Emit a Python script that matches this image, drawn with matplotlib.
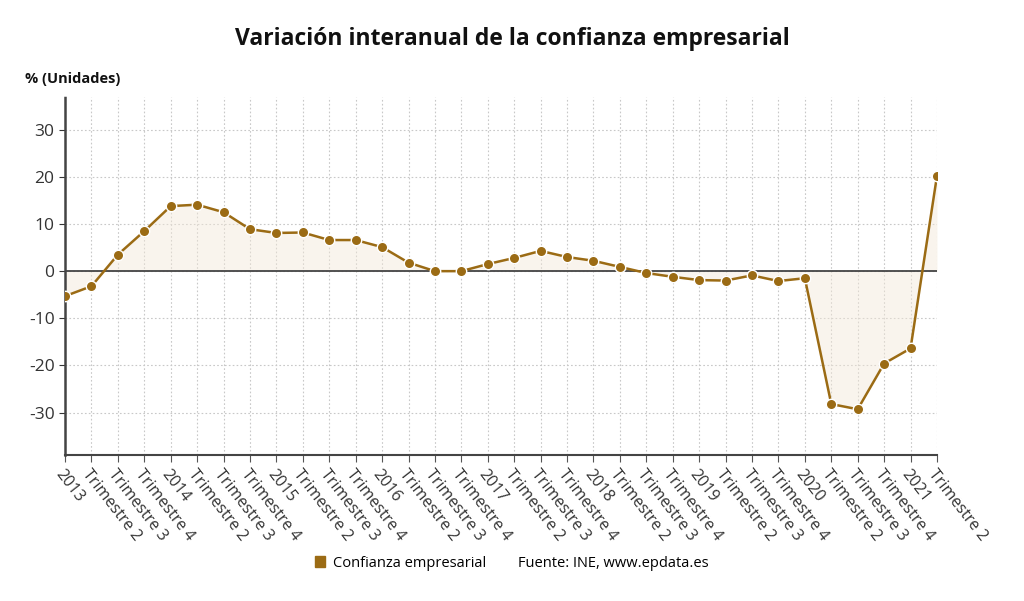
import matplotlib.pyplot as plt
from matplotlib.lines import Line2D
from matplotlib.patches import Patch

plt.rcParams['font.family'] = ['Open Sans', 'DejaVu Sans']

etiquetas = []
for anio in range(2013, 2022):
    etiquetas += [str(anio), 'Trimestre 2', 'Trimestre 3', 'Trimestre 4']
etiquetas = etiquetas[:34]

confianza = [-5.3, -3.2, 3.5, 8.5, 13.8, 14.1, 12.5, 8.9, 8.1, 8.2, 6.6, 6.6,
             5.1, 1.8, 0.0, 0.0, 1.5, 2.8, 4.3, 3.0, 2.2, 0.9, -0.4, -1.2,
             -1.9, -2.0, -0.9, -2.1, -1.5, -28.2, -29.3, -19.6, -16.4, 20.2]

color = '#9b6b14'
x = list(range(len(confianza)))

fig = plt.figure(figsize=(10.24, 6.01), dpi=100)
ax = fig.add_axes([0.0635, 0.243, 0.8515, 0.596])

ax.fill_between(x, confianza, 0, color='#f3e8d8', alpha=0.45, lw=0)
ax.axhline(0, color='#444444', lw=1.3, zorder=2)
ax.plot(x, confianza, color=color, lw=1.8, marker='o', markersize=7.5,
        markerfacecolor=color, markeredgecolor='white', markeredgewidth=1.0, zorder=3)

ax.set_xlim(0, len(confianza) - 1)
ax.set_ylim(-39, 37)
ax.set_yticks([-30, -20, -10, 0, 10, 20, 30])
ax.set_yticklabels(['-30', '-20', '-10', '0', '10', '20', '30'])
ax.set_xticks(x)
ax.set_xticklabels(etiquetas, rotation=-52, ha='left', va='top',
                   rotation_mode='anchor', fontsize=11.5, color='#333333')
ax.tick_params(axis='y', labelsize=12.5, colors='#333333', length=4)
ax.tick_params(axis='x', length=5, color='#555555')
ax.grid(True, color='#c8c8c8', ls=(0, (1.5, 2)), lw=0.8)
ax.set_axisbelow(True)

for s in ['top', 'right']:
    ax.spines[s].set_visible(False)
ax.spines['bottom'].set_color('#444444')
ax.spines['bottom'].set_linewidth(1.5)
ax.spines['left'].set_color('#444444')
ax.spines['left'].set_linewidth(1.8)
ax.spines['left'].set_linestyle((0, (1, 1)))

fig.text(0.5, 0.935, 'Variación interanual de la confianza empresarial',
         ha='center', va='center', fontsize=16.5, fontweight='bold', color='#111111')
fig.text(0.024, 0.868, '% (Unidades)', ha='left', va='center', fontsize=10.5,
         fontweight='bold', color='#111111')

handles = [Patch(facecolor=color, edgecolor=color),
           Line2D([], [], color='none')]
fig.legend(handles, ['Confianza empresarial', 'Fuente: INE, www.epdata.es'],
           loc='center', bbox_to_anchor=(0.5, 0.063), ncol=2, frameon=False,
           fontsize=10.5, handlelength=0.7, handleheight=0.7, handletextpad=0.5,
           columnspacing=1.0)

fig.savefig('out.png', dpi=100)
